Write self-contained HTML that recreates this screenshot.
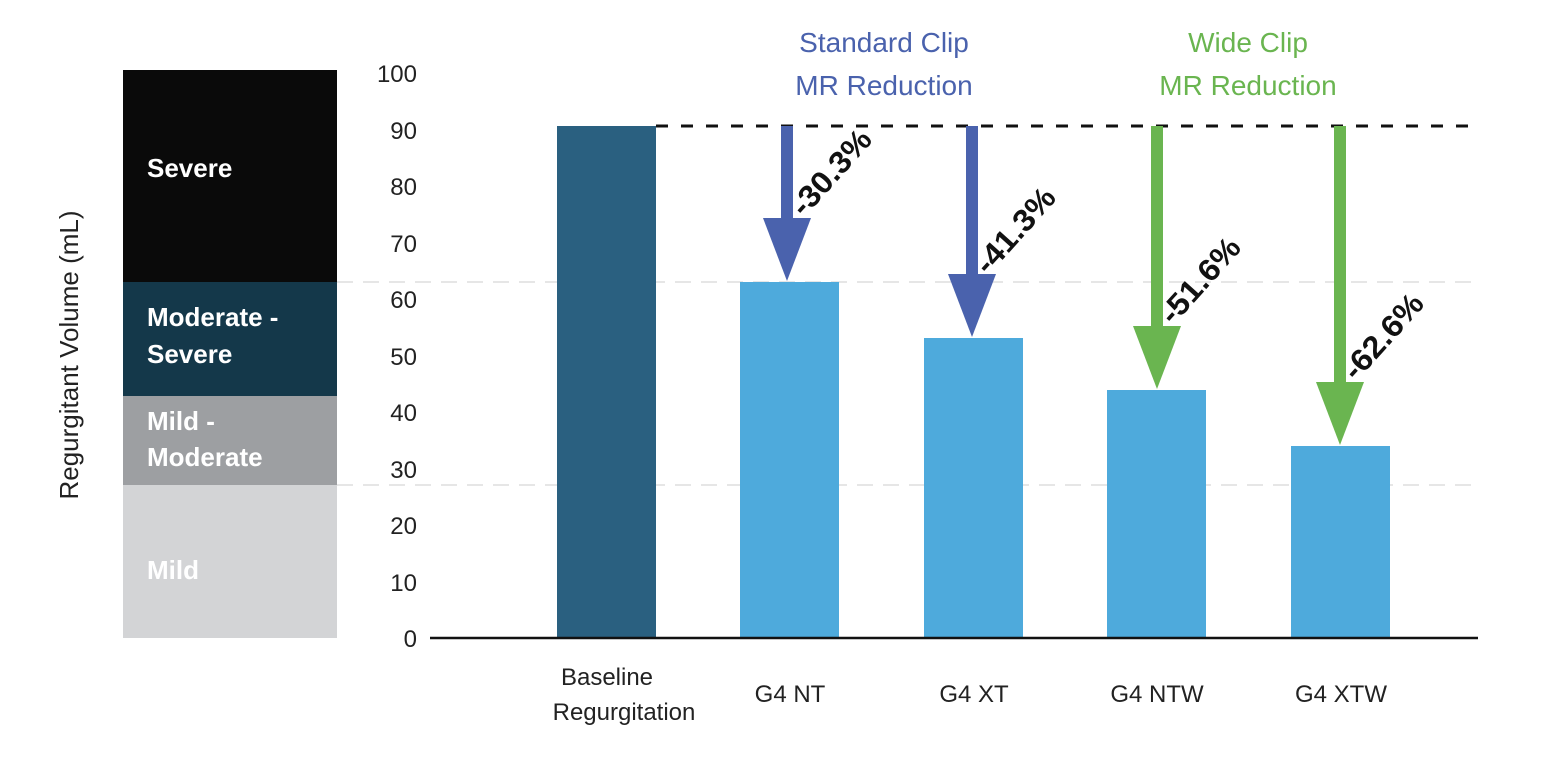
<!DOCTYPE html>
<html><head><meta charset="utf-8"><style>
body{margin:0;background:#fff}
</style></head><body>
<svg width="1546" height="764" xmlns="http://www.w3.org/2000/svg" font-family="Liberation Sans, sans-serif">
<rect x="123" y="70" width="214" height="212" fill="#0a0a0a"/>
<rect x="123" y="282" width="214" height="114" fill="#14384a"/>
<rect x="123" y="396" width="214" height="89" fill="#9d9fa2"/>
<rect x="123" y="485" width="214" height="153" fill="#d3d4d6"/>
<g fill="#fff" font-weight="bold" font-size="26">
<text x="147" y="177">Severe</text>
<text x="147" y="326">Moderate -</text>
<text x="147" y="363">Severe</text>
<text x="147" y="430">Mild -</text>
<text x="147" y="466">Moderate</text>
<text x="147" y="579">Mild</text>
</g>
<text transform="translate(78,355) rotate(-90)" text-anchor="middle" font-size="26" fill="#222">Regurgitant Volume (mL)</text>
<g font-size="24" fill="#222" text-anchor="end">
<text x="417" y="82">100</text><text x="417" y="139">90</text><text x="417" y="195">80</text>
<text x="417" y="252">70</text><text x="417" y="308">60</text><text x="417" y="365">50</text>
<text x="417" y="421">40</text><text x="417" y="478">30</text><text x="417" y="534">20</text>
<text x="417" y="591">10</text><text x="417" y="647">0</text>
</g>
<line x1="337" y1="282" x2="1478" y2="282" stroke="#ddd" stroke-width="1.5" stroke-dasharray="16,10"/>
<line x1="337" y1="485" x2="1478" y2="485" stroke="#ddd" stroke-width="1.5" stroke-dasharray="16,10"/>
<line x1="656" y1="126" x2="1478" y2="126" stroke="#111" stroke-width="3" stroke-dasharray="12,13"/>
<rect x="557" y="126" width="99" height="512" fill="#2a6080"/>
<g fill="#4eaadc">
<rect x="740" y="282" width="99" height="356"/>
<rect x="924" y="338" width="99" height="300"/>
<rect x="1107" y="390" width="99" height="248"/>
<rect x="1291" y="446" width="99" height="192"/>
</g>
<line x1="430" y1="638" x2="1478" y2="638" stroke="#111" stroke-width="2.5"/>
<g fill="#4a62ad">
<rect x="781" y="126" width="12" height="96"/><polygon points="763,218 811,218 787,281"/>
<rect x="966" y="126" width="12" height="152"/><polygon points="948,274 996,274 972,337"/>
</g>
<g fill="#6ab550">
<rect x="1151" y="126" width="12" height="204"/><polygon points="1133,326 1181,326 1157,389"/>
<rect x="1334" y="126" width="12" height="260"/><polygon points="1316,382 1364,382 1340,445"/>
</g>
<g font-size="31" font-weight="bold" fill="#111">
<text transform="translate(804,218) rotate(-48)" textLength="104" lengthAdjust="spacingAndGlyphs">-30.3%</text>
<text transform="translate(988,276) rotate(-48)" textLength="104" lengthAdjust="spacingAndGlyphs">-41.3%</text>
<text transform="translate(1173,326) rotate(-48)" textLength="104" lengthAdjust="spacingAndGlyphs">-51.6%</text>
<text transform="translate(1356,382) rotate(-48)" textLength="104" lengthAdjust="spacingAndGlyphs">-62.6%</text>
</g>
<g font-size="28" text-anchor="middle">
<text x="884" y="52" fill="#4a62ad">Standard Clip</text>
<text x="884" y="95" fill="#4a62ad">MR Reduction</text>
<text x="1248" y="52" fill="#6ab550">Wide Clip</text>
<text x="1248" y="95" fill="#6ab550">MR Reduction</text>
</g>
<g font-size="24" fill="#222" text-anchor="middle">
<text x="607" y="685">Baseline</text><text x="624" y="720">Regurgitation</text>
<text x="790" y="702">G4 NT</text><text x="974" y="702">G4 XT</text>
<text x="1157" y="702">G4 NTW</text><text x="1341" y="702">G4 XTW</text>
</g>
</svg>
</body></html>
